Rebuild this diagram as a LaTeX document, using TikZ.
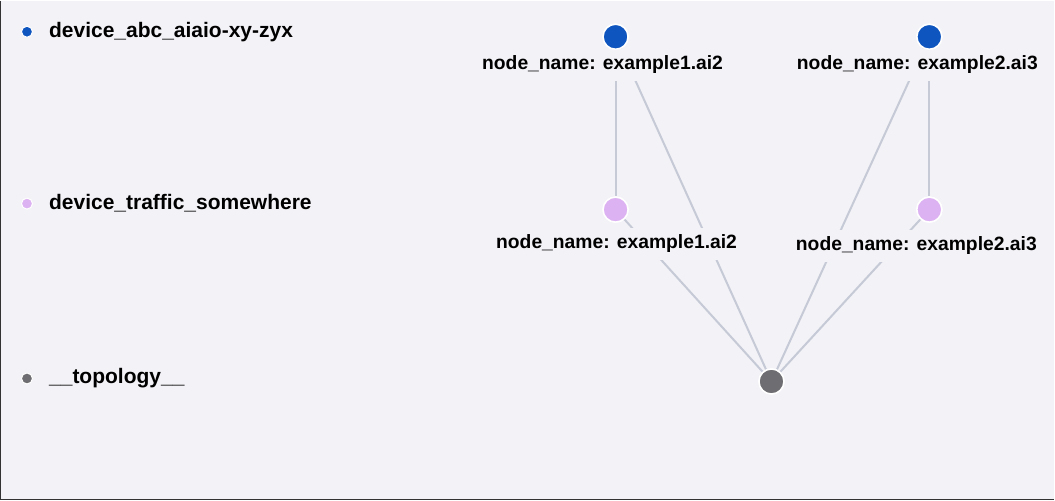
\documentclass[tikz,border=0pt]{standalone}
\usepackage{fontspec}
\setmainfont{Liberation Sans}
\begin{document}
\begin{tikzpicture}[x=1pt,y=-1pt,
  lbl/.style={font=\bfseries\fontsize{21}{24}\selectfont,text=black,inner sep=1pt},
  glbl/.style={font=\bfseries\fontsize{19.3}{22}\selectfont,text=black,fill=bg,inner xsep=2pt,inner ysep=7pt},
  edge/.style={draw=edgec,line width=2pt},
  dot/.style={circle,draw=white,line width=1.5pt,minimum size=#1,inner sep=0pt}]
\definecolor{bg}{HTML}{F3F2F7}
\definecolor{edgec}{HTML}{C5CAD6}
\definecolor{blu}{HTML}{0F55BF}
\definecolor{pnk}{HTML}{DDB2F2}
\definecolor{gry}{HTML}{6E6E72}
\fill[bg] (0,0) rectangle (1055,500);
\draw[black!80,line width=1.5pt] (0.75,0) -- (0.75,499.25) -- (1055,499.25);
% legend
\node[dot=11pt,fill=blu,line width=1pt] (l1) at (27,31) {};
\node[lbl,anchor=west] (t1) at (48,31) {device\_abc\_aiaio-xy-zyx};
\node[dot=11pt,fill=pnk,line width=1pt] (l2) at (27,203) {};
\node[lbl,anchor=west] (t2) at (48,203) {device\_traffic\_somewhere};
\node[dot=11pt,fill=gry,line width=1pt] (l3) at (27,378) {};
\node[lbl,anchor=west] (t3) at (48,378) {\_\_topology\_\_};
% graph nodes
\node[dot=25pt,fill=blu] (b1) at (616,36) {};
\node[dot=25pt,fill=blu] (b2) at (930,36) {};
\node[dot=25pt,fill=pnk] (p1) at (616,209) {};
\node[dot=25pt,fill=pnk] (p2) at (930,209) {};
\node[dot=25pt,fill=gry] (g) at (772,381) {};
\draw[edge] (b1) -- (p1);
\draw[edge] (b1) -- (g);
\draw[edge] (b2) -- (p2);
\draw[edge] (b2) -- (g);
\draw[edge] (p1) -- (g);
\draw[edge] (p2) -- (g);
\node[glbl] (lb1) at (603,64) {node\_name: example1.ai2};
\node[glbl] (lb2) at (918,64) {node\_name: example2.ai3};
\node[glbl] (lp1) at (617,243) {node\_name: example1.ai2};
\node[glbl] (lp2) at (917,245) {node\_name: example2.ai3};
% dots above edges
\node[dot=25pt,fill=blu] at (b1) {};
\node[dot=25pt,fill=blu] at (b2) {};
\node[dot=25pt,fill=pnk] at (p1) {};
\node[dot=25pt,fill=pnk] at (p2) {};
\node[dot=25pt,fill=gry] at (g) {};
\end{tikzpicture}
\end{document}
